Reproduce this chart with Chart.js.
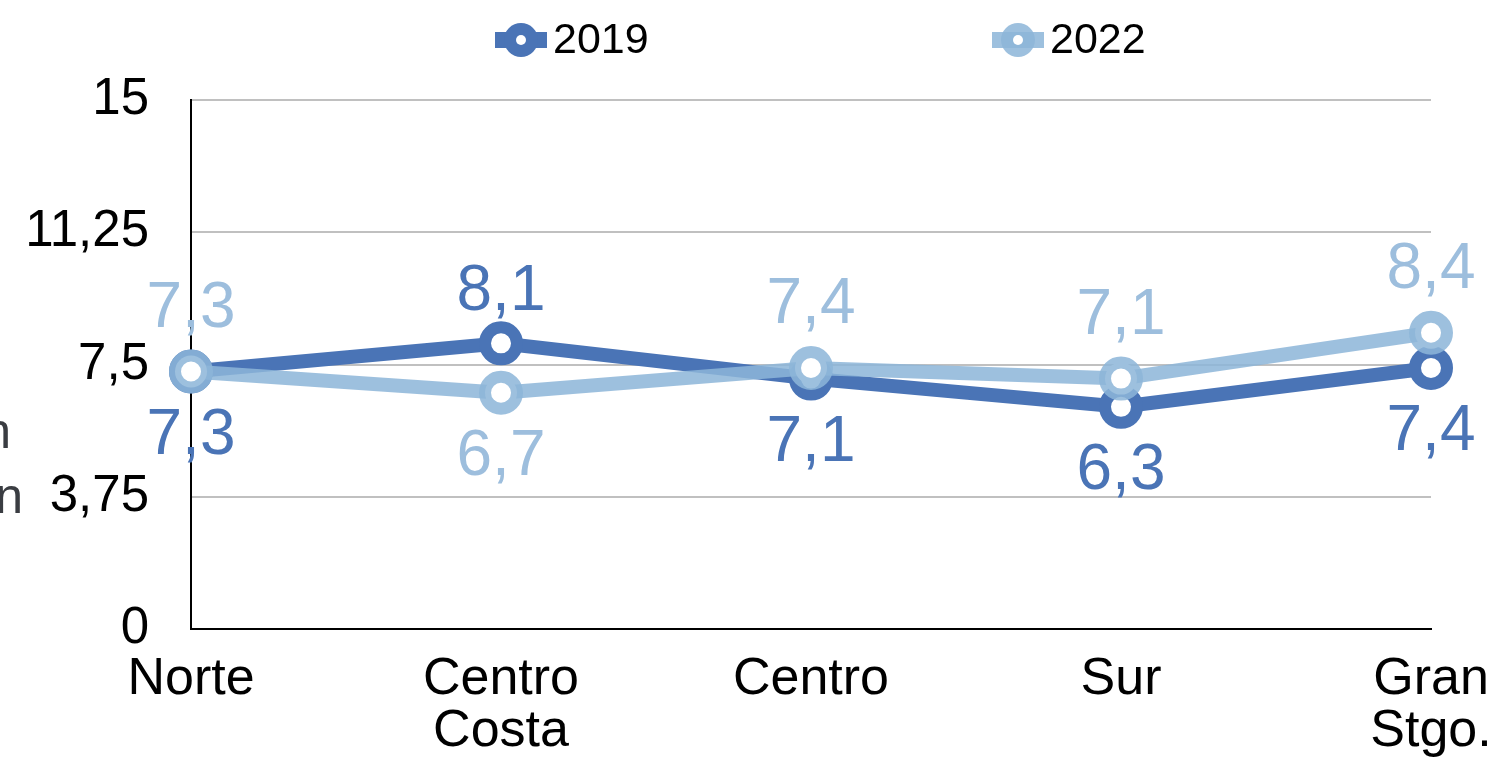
<!DOCTYPE html>
<html>
<head>
<meta charset="utf-8">
<script src="https://cdn.jsdelivr.net/npm/chart.js@4.4.0/dist/chart.umd.min.js"></script>
<style>
  html, body { margin: 0; padding: 0; background: #fff; overflow: hidden; }
  canvas { display: block; }
</style>
</head>
<body>
<canvas id="chart" width="1491" height="760"></canvas>
<script>
// Datos del gráfico
const categories = ["Norte", ["Centro", "Costa"], "Centro", "Sur", ["Gran", "Stgo."]];
const serie2019 = [7.3, 8.1, 7.1, 6.3, 7.4];
const serie2022 = [7.3, 6.7, 7.4, 7.1, 8.4];
const seriesNames = ["2019", "2022"];
// posición de las etiquetas de datos: "a" arriba, "b" abajo
const pos2019 = ["b", "a", "b", "b", "b"];
const pos2022 = ["a", "b", "a", "a", "a"];
const yTicks = [0, 3.75, 7.5, 11.25, 15];
const sideTitle = ["Tasa de ocupación", "por región en"];

const FONT = "'Liberation Sans', Arial, sans-serif";
const C2019 = "#4a74b6";
const C2022 = "rgba(141,182,217,0.86)";
const L2022 = "#9dbedd";

const fmt = (v) => String(v).replace(".", ",");

// Etiquetas de datos dibujadas a mano
const dataLabels = {
  id: "data-labels",
  afterDatasetsDraw(chart) {
    const { ctx } = chart;
    ctx.save();
    ctx.font = `64px ${FONT}`;
    ctx.textAlign = "center";
    ctx.textBaseline = "alphabetic";
    chart.data.datasets.forEach((ds, i) => {
      const meta = chart.getDatasetMeta(i);
      ctx.fillStyle = ds.labelColor;
      meta.data.forEach((pt, j) => {
        const y = ds.labelPos[j] === "a" ? pt.y - ds.aboveGap : pt.y + 82;
        ctx.fillText(fmt(ds.data[j]), pt.x, y);
      });
    });
    ctx.restore();
  },
};

// Leyenda y título lateral
const extras = {
  id: "extras",
  afterDraw(chart) {
    const { ctx } = chart;
    ctx.save();
    const items = [
      { x: 521, color: C2019, name: seriesNames[0] },
      { x: 1018, color: C2022, name: seriesNames[1] },
    ];
    items.forEach((it) => {
      const y = 40;
      ctx.strokeStyle = it.color;
      ctx.lineWidth = 16;
      ctx.beginPath();
      ctx.moveTo(it.x - 26, y);
      ctx.lineTo(it.x + 26, y);
      ctx.stroke();
      ctx.beginPath();
      ctx.arc(it.x, y, 17, 0, Math.PI * 2);
      ctx.fillStyle = it.color;
      ctx.fill();
      ctx.beginPath();
      ctx.arc(it.x, y, 5, 0, Math.PI * 2);
      ctx.fillStyle = "#fff";
      ctx.fill();
      ctx.fillStyle = "#000";
      ctx.font = `43px ${FONT}`;
      ctx.textAlign = "left";
      ctx.textBaseline = "middle";
      ctx.fillText(it.name, it.x + 32, y + 1);
    });
    ctx.fillStyle = "#3a3d42";
    ctx.font = `50px ${FONT}`;
    ctx.textAlign = "right";
    ctx.textBaseline = "alphabetic";
    ctx.fillText(sideTitle[0], 11, 448);
    ctx.fillText(sideTitle[1], 23, 513);
    ctx.restore();
  },
};

new Chart(document.getElementById("chart"), {
  type: "line",
  data: {
    labels: categories,
    datasets: [
      {
        label: seriesNames[0],
        data: serie2019,
        borderColor: C2019,
        backgroundColor: "#fff",
        borderWidth: 14,
        pointRadius: 16,
        pointBorderWidth: 12,
        pointBorderColor: C2019,
        pointBackgroundColor: "#fff",
        labelColor: C2019,
        labelPos: pos2019,
        aboveGap: 33,
        order: 1,
        tension: 0,
      },
      {
        label: seriesNames[1],
        data: serie2022,
        borderColor: C2022,
        backgroundColor: "#fff",
        borderWidth: 14,
        pointRadius: 16,
        pointBorderWidth: 12,
        pointBorderColor: C2022,
        pointBackgroundColor: "#fff",
        labelColor: L2022,
        labelPos: pos2022,
        aboveGap: 45,
        order: 0,
        tension: 0,
      },
    ],
  },
  options: {
    responsive: false,
    animation: false,
    devicePixelRatio: 1,
    layout: { padding: { top: 100, right: 60, left: 0, bottom: 0 } },
    plugins: {
      legend: { display: false },
      tooltip: { enabled: false },
    },
    scales: {
      x: {
        offset: false,
        grid: { display: false, drawTicks: false },
        border: { display: true, color: "#000", width: 2 },
        ticks: {
          color: "#000",
          font: { family: FONT, size: 52, lineHeight: 1.0 },
          padding: 25,
          maxRotation: 0,
          autoSkip: false,
        },
        afterFit(scale) {
          scale.height = 131;
          scale.paddingLeft = 0;
          scale.paddingRight = 0;
        },
      },
      y: {
        min: 0,
        max: 15,
        afterBuildTicks(scale) {
          scale.ticks = yTicks.map((v) => ({ value: v }));
        },
        grid: { color: "#c0c0c0", lineWidth: 2, drawTicks: false },
        border: { display: true, color: "#000", width: 2 },
        ticks: {
          color: "#000",
          font: { family: FONT, size: 51 },
          padding: 42,
          callback: (v) => fmt(v),
        },
        afterFit(scale) {
          scale.width = 191;
          scale.paddingTop = 0;
          scale.paddingBottom = 0;
        },
      },
    },
  },
  plugins: [dataLabels, extras],
});
</script>
</body>
</html>
